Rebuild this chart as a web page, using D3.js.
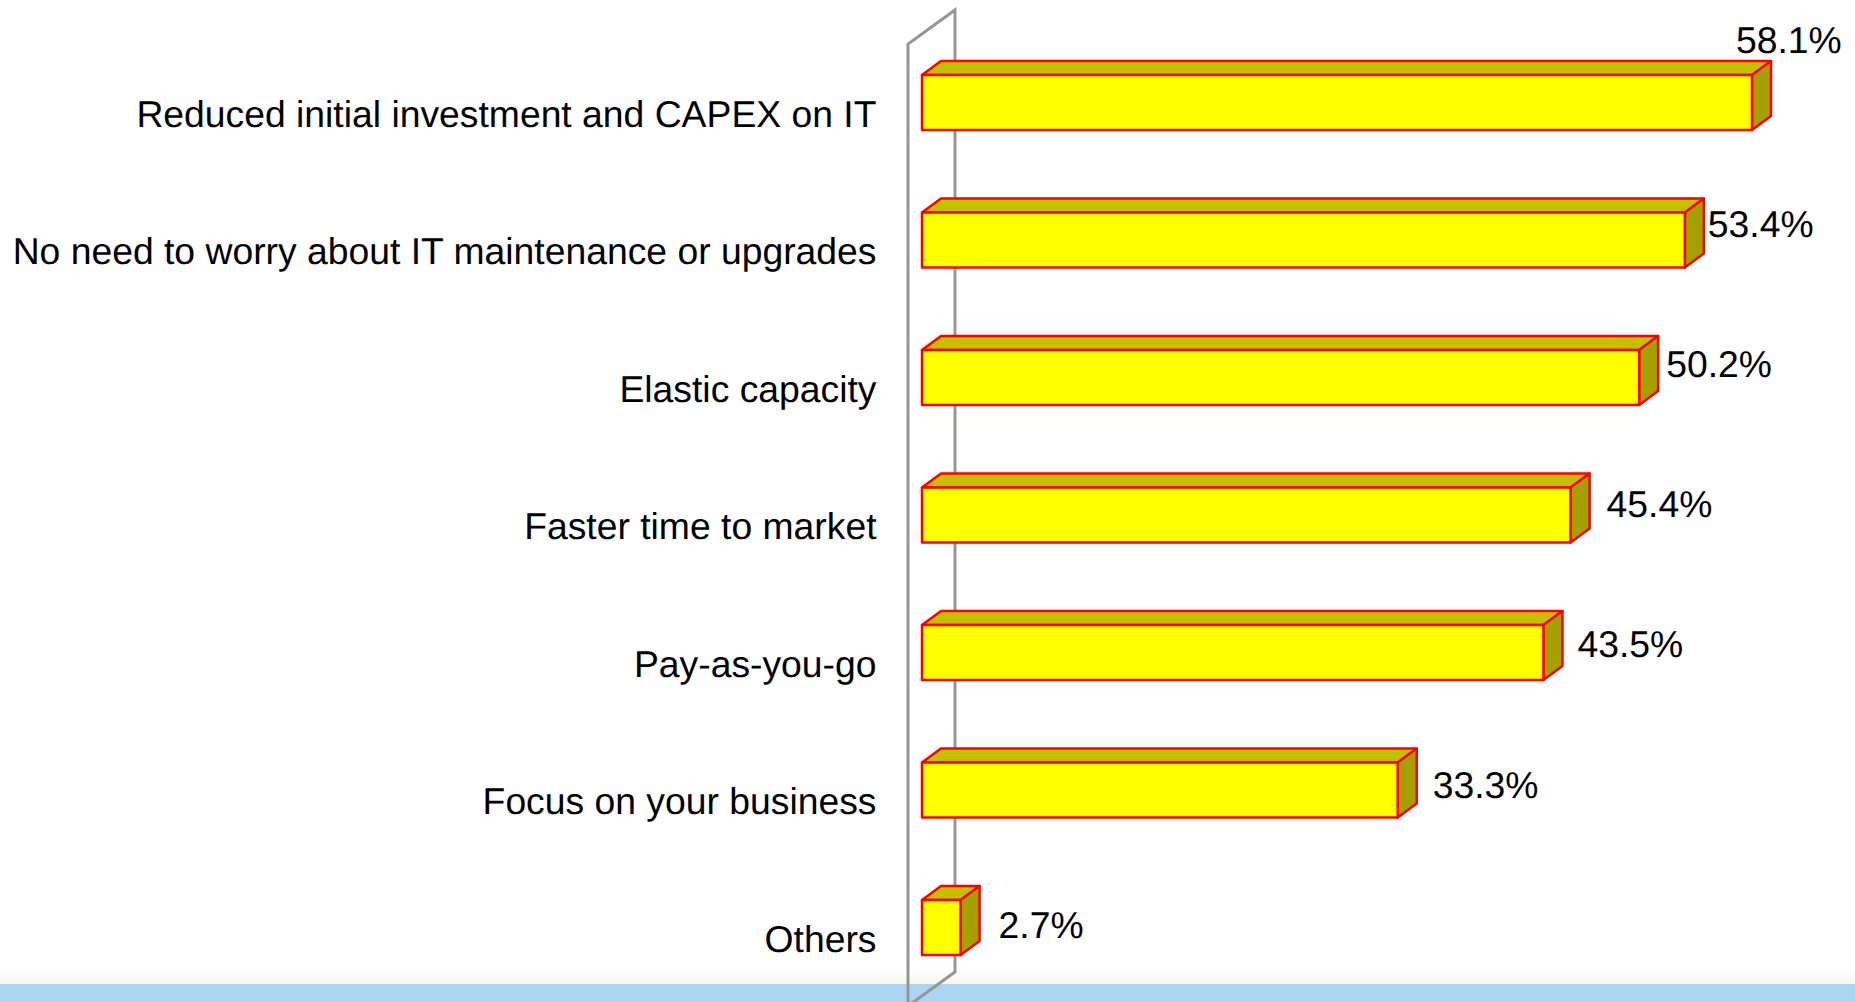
<!DOCTYPE html>
<html><head><meta charset="utf-8">
<script src="https://cdn.jsdelivr.net/npm/d3@7"></script>
<style>html,body{margin:0;padding:0;background:#fff;overflow:hidden}svg{display:block}text{font-family:"Liberation Sans",Arial,sans-serif;fill:#000;text-rendering:geometricPrecision}</style>
</head><body><div id="c"></div>
<script>
const categories = ["Reduced initial investment and CAPEX on IT","No need to worry about IT maintenance or upgrades","Elastic capacity","Faster time to market","Pay-as-you-go","Focus on your business","Others"];
const values = [58.1,53.4,50.2,45.4,43.5,33.3,2.7];
const valueLabels = ["58.1%","53.4%","50.2%","45.4%","43.5%","33.3%","2.7%"];

const W=1855,H=1002, DX=19, DY=14;
const svg=d3.select("#c").append("svg").attr("width",W).attr("height",H);
const defs=svg.append("defs");
const g=defs.append("linearGradient").attr("id","fade").attr("x1",0).attr("x2",0).attr("y1",0).attr("y2",1);
g.append("stop").attr("offset",0).attr("stop-color","#fff");
g.append("stop").attr("offset",1).attr("stop-color","#f6f8ee");
svg.append("rect").attr("x",0).attr("y",968).attr("width",W).attr("height",16).attr("fill","url(#fade)");
svg.append("rect").attr("x",0).attr("y",984).attr("width",W).attr("height",18).attr("fill","#abd5f0");

const x=d3.scaleLinear().domain([0,58.1]).range([922,1752]);
const y=d3.scaleBand().domain(categories).range([75,955]).paddingInner(0.6);

// back wall
const wx=x(0)-14;
svg.append("path").attr("fill","none").attr("stroke","#969696").attr("stroke-width",3)
  .attr("d",d3.line()([[wx,1010],[wx,44],[wx+47,10],[wx+47,972],[wx,1006]]));

// label offsets from the bar end, and vertical offset from the bar centre
const labelDx=[-16,23,27,36,34,35,38];
const labelDy=[-63,-16,-14,-11,-9,-5,-3];

const rows=svg.selectAll("g.row").data(categories).join("g").attr("class","row");
rows.each(function(c,i){
  const s=d3.select(this), x0=x(0), x1=x(values[i]), t=y(c), b=t+y.bandwidth();
  const poly=(pts,fill)=>s.append("path").attr("d",d3.line()(pts)+"Z").attr("fill",fill)
     .attr("stroke","#ff0000").attr("stroke-width",2.5).attr("stroke-linejoin","round");
  poly([[x0,t],[x0+DX,t-DY],[x1+DX,t-DY],[x1,t]],"#c4c000");
  poly([[x1,t],[x1+DX,t-DY],[x1+DX,b-DY],[x1,b]],"#a3a000");
  poly([[x0,t],[x1,t],[x1,b],[x0,b]],"#ffff00");
  s.append("text").attr("x",876.5).attr("y",(t+b)/2+24).attr("text-anchor","end")
    .attr("font-size",37.3).text(c);
  s.append("text").attr("x",x1+labelDx[i]).attr("y",(t+b)/2+labelDy[i]+13)
    .attr("font-size",37.3).text(valueLabels[i]);
});
</script></body></html>
